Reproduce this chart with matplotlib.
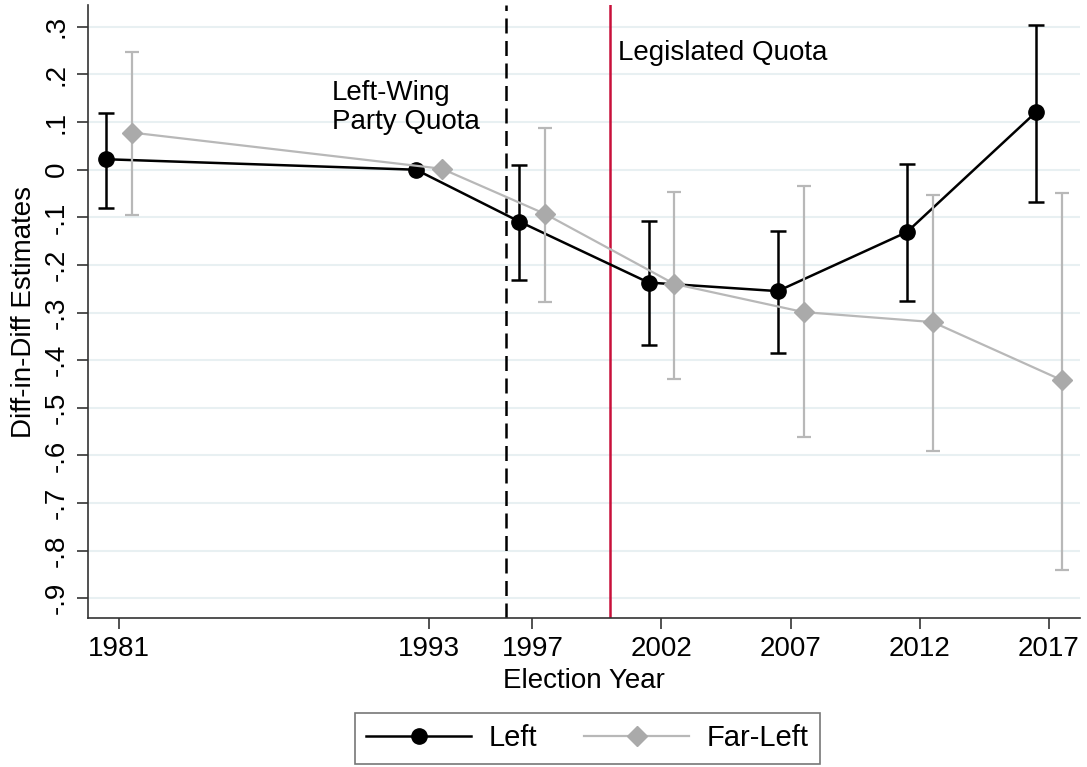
import matplotlib
matplotlib.use("Agg")
import matplotlib.pyplot as plt
from matplotlib.lines import Line2D

plt.rcParams['font.family'] = ['Liberation Sans', 'DejaVu Sans']

# Data
years = [1981, 1993, 1997, 2002, 2007, 2012, 2017]
year_labels = ["1981", "1993", "1997", "2002", "2007", "2012", "2017"]

left_est = [0.022, 0.0, -0.109, -0.237, -0.255, -0.131, 0.121]
left_hi = [0.120, None, 0.010, -0.108, -0.129, 0.012, 0.304]
left_lo = [-0.080, None, -0.231, -0.369, -0.386, -0.276, -0.067]

far_est = [0.078, 0.002, -0.093, -0.240, -0.299, -0.320, -0.442]
far_hi = [0.248, None, 0.087, -0.046, -0.034, -0.054, -0.048]
far_lo = [-0.096, None, -0.277, -0.440, -0.561, -0.590, -0.841]

yticks = [0.3, 0.2, 0.1, 0.0, -0.1, -0.2, -0.3, -0.4, -0.5, -0.6, -0.7, -0.8, -0.9]
ytick_labels = [".3", ".2", ".1", "0", "-.1", "-.2", "-.3", "-.4", "-.5", "-.6", "-.7", "-.8", "-.9"]

party_quota_year = 1996
legislated_year = 2000
offset = 0.5
FS = 20

fig = plt.figure(figsize=(10.87, 7.67), dpi=100)
ax = fig.add_axes([0.081, 0.194, 0.9125, 0.7995])

ax.set_xlim(1979.8, 2018.2)
ax.set_ylim(-0.942, 0.346)

for y in yticks:
    ax.axhline(y, color='#e8f0f2', lw=1.5, zorder=0)

ax.axvline(party_quota_year, color='black', lw=1.8, ls=(0, (6, 3)), zorder=1)
ax.axvline(legislated_year, color='#c8103a', lw=1.8, zorder=1)

black = '#000000'
gray = '#aaaaaa'
gray_line = '#b8b8b8'

lx = [y - offset for y in years]
fx = [y + offset for y in years]

# Left error bars
for x, lo, hi in zip(lx, left_lo, left_hi):
    if lo is None:
        continue
    ax.errorbar([x], [(lo + hi) / 2], yerr=[[(hi - lo) / 2], [(hi - lo) / 2]],
                fmt='none', ecolor=black, elinewidth=1.8, capsize=6, capthick=1.8, zorder=2)
ax.plot(lx, left_est, color=black, lw=1.8, marker='o', markersize=11,
        markerfacecolor=black, markeredgecolor=black, zorder=3)

# Far-left error bars
for x, lo, hi in zip(fx, far_lo, far_hi):
    if lo is None:
        continue
    ax.errorbar([x], [(lo + hi) / 2], yerr=[[(hi - lo) / 2], [(hi - lo) / 2]],
                fmt='none', ecolor=gray_line, elinewidth=1.6, capsize=5, capthick=1.6, zorder=4)
ax.plot(fx, far_est, color=gray_line, lw=1.6, marker='D', markersize=10,
        markerfacecolor=gray, markeredgecolor=gray, zorder=5)

ax.text(1989.25, 0.189, "Left-Wing\nParty Quota", ha='left', va='top', fontsize=FS,
        linespacing=1.15)
ax.text(2000.3, 0.245, "Legislated Quota", ha='left', va='center', fontsize=FS)

ax.set_xticks(years)
ax.set_xticklabels(year_labels, fontsize=FS)
ax.set_yticks(yticks)
ax.set_yticklabels(ytick_labels, fontsize=FS, rotation=90, va='center')
ax.tick_params(axis='both', direction='out', length=8, width=1.2, color='#333333', pad=5)

ax.set_xlabel("Election Year", fontsize=FS, labelpad=4)
ax.set_ylabel("Diff-in-Diff Estimates", fontsize=FS, labelpad=5)

for side in ['top', 'right']:
    ax.spines[side].set_visible(False)
for side in ['left', 'bottom']:
    ax.spines[side].set_color('#333333')
    ax.spines[side].set_linewidth(1.2)

handles = [
    Line2D([0], [0], color=black, lw=1.8, marker='o', markersize=11),
    Line2D([0], [0], color=gray_line, lw=1.6, marker='D', markersize=10,
           markerfacecolor=gray, markeredgecolor=gray),
]
leg = fig.legend(handles, ["Left", "Far-Left"], loc='lower center',
                 bbox_to_anchor=(0.5405, 0.004), borderaxespad=0, ncol=2, fontsize=21,
                 frameon=True, fancybox=False, edgecolor='#555555', handlelength=3.6,
                 columnspacing=1.6, handletextpad=0.6, borderpad=0.4)
leg.get_frame().set_linewidth(1.2)

fig.savefig("out.png", dpi=100)
